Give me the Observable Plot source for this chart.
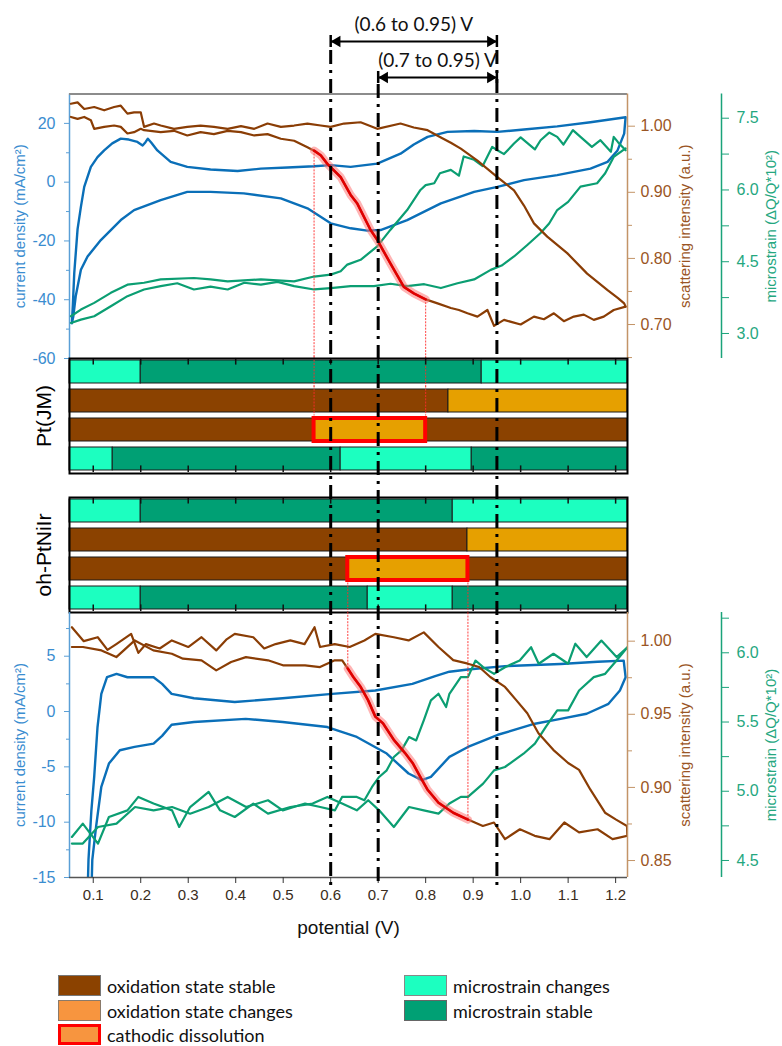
<!DOCTYPE html>
<html><head><meta charset="utf-8">
<script src="https://cdn.jsdelivr.net/npm/d3@7"></script>
<script src="https://cdn.jsdelivr.net/npm/@observablehq/plot@0.6"></script>
<style>
html,body{margin:0;padding:0;background:#fff;}
#chart{position:relative;width:782px;height:1046px;overflow:hidden;background:#fff;}
#chart svg{position:absolute;left:0;top:0;overflow:visible;}
.lg{position:absolute;display:flex;align-items:center;height:21px;font-family:Lato,'Open Sans',sans-serif;font-size:18px;line-height:20px;color:#111;white-space:nowrap;}
.sw{display:inline-block;box-sizing:border-box;width:43px;height:21px;margin-right:6px;flex:none;}
</style></head><body><div id="chart"></div>
<script>
// ---------- data ----------
const xTicks = [0.1,0.2,0.3,0.4,0.5,0.6,0.7,0.8,0.9,1.0,1.1,1.2];
const markers = [0.6, 0.7, 0.95];
const spans = [{from:0.6, to:0.95, label:"(0.6 to 0.95) V"}, {from:0.7, to:0.95, label:"(0.7 to 0.95) V"}];

// top panel: Pt(JM)
const iTopTicks = [-60,-40,-20,0,20], iTopMinor = [-50,-30,-10,10];
const sTopTicks = [0.70,0.80,0.90,1.00], sTopMinor = [0.65,0.75,0.85,0.95];
const mTopTicks = [3.0,4.5,6.0,7.5], mTopMinor = [3.75,5.25,6.75];
const topCV = [[0.055,-48],[0.057,-42],[0.060,-31],[0.067,-16],[0.074,-8.4],[0.081,-1.6],[0.095,5.2],[0.109,8.5],[0.123,10.8],[0.14,13.2],[0.158,14.8],[0.175,14.5],[0.193,13.7],[0.204,12.5],[0.210,13.6],[0.215,14.8],[0.222,13.5],[0.235,10.8],[0.263,6.9],[0.298,5.2],[0.347,4.3],[0.404,3.8],[0.453,4.6],[0.509,5.0],[0.565,5.4],[0.600,5.8],[0.642,5.2],[0.698,6.3],[0.747,9.7],[0.775,12.8],[0.804,15.4],[0.846,17.1],[0.902,17.4],[0.951,17.1],[1.007,17.9],[1.077,19.0],[1.147,20.4],[1.221,22.1],
 [1.218,16.5],[1.204,10.8],[1.183,6.9],[1.147,4.6],[1.077,2.4],[1.007,0.7],[0.951,-1.6],[0.902,-3.3],[0.832,-7.2],[0.761,-12.9],[0.705,-16.3],[0.677,-16.5],[0.642,-15.7],[0.600,-14.0],[0.551,-8.9],[0.495,-5.5],[0.417,-3.8],[0.347,-3.3],[0.298,-3.3],[0.242,-6.1],[0.186,-9.5],[0.158,-12.9],[0.116,-19.7],[0.088,-25.3],[0.074,-29.8],[0.063,-38.9],[0.058,-45.7],[0.055,-48]];
const topScatA = [[0.053,1.034],[0.067,1.036],[0.081,1.026],[0.102,1.029],[0.123,1.024],[0.144,1.029],[0.158,1.031],[0.172,1.019],[0.186,1.021],[0.200,1.021],[0.207,0.999],[0.228,1.004],[0.242,1.001],[0.270,0.996],[0.298,0.999],[0.326,1.001],[0.354,0.999],[0.383,0.996],[0.411,1.000],[0.439,0.996],[0.467,1.004],[0.495,0.999],[0.523,1.001],[0.551,1.004],[0.579,1.001],[0.600,0.999],[0.628,1.004],[0.663,1.006],[0.698,0.996],[0.747,1.004],[0.775,0.998],[0.804,0.994],[0.832,0.983],[0.853,0.975],[0.874,0.966],[0.909,0.948],[0.951,0.923],[0.986,0.903],[1.007,0.880],[1.028,0.853],[1.056,0.833],[1.098,0.808],[1.140,0.777],[1.183,0.752],[1.205,0.740],[1.218,0.732],[1.221,0.727]];
const topScatC = [[1.221,0.727],[1.196,0.722],[1.175,0.712],[1.154,0.707],[1.133,0.715],[1.112,0.712],[1.091,0.705],[1.070,0.717],[1.049,0.708],[1.028,0.712],[1.000,0.700],[0.965,0.707],[0.944,0.698],[0.930,0.722],[0.909,0.712],[0.888,0.717],[0.870,0.722],[0.853,0.725],[0.825,0.732],[0.800,0.738],[0.775,0.747],[0.754,0.757],[0.726,0.792],[0.698,0.828],[0.684,0.843],[0.656,0.883],[0.642,0.896],[0.621,0.923],[0.593,0.943],[0.579,0.956],[0.565,0.963],[0.551,0.968],[0.523,0.978],[0.495,0.981],[0.467,0.988],[0.439,0.986],[0.411,0.991],[0.383,0.993],[0.354,0.988],[0.326,0.991],[0.298,0.986],[0.270,0.993],[0.242,0.991],[0.207,0.994],[0.200,0.996],[0.186,0.991],[0.172,0.989],[0.158,0.999],[0.144,1.001],[0.123,0.999],[0.102,0.996],[0.095,1.009],[0.081,1.014],[0.067,1.011],[0.053,1.014]];
const topStrainA = [[0.053,3.22],[0.074,3.29],[0.102,3.36],[0.137,3.57],[0.172,3.78],[0.207,3.92],[0.242,3.99],[0.277,4.05],[0.312,3.92],[0.347,3.98],[0.383,3.92],[0.418,4.06],[0.453,4.02],[0.488,4.08],[0.523,3.99],[0.565,3.92],[0.600,3.95],[0.642,3.99],[0.691,3.99],[0.726,4.04],[0.761,3.99],[0.797,4.03],[0.832,3.95],[0.867,4.05],[0.902,4.13],[0.937,4.33],[0.960,4.42],[0.986,4.61],[1.014,4.85],[1.042,5.10],[1.060,5.30],[1.077,5.58],[1.100,5.75],[1.126,6.07],[1.161,6.14],[1.178,6.35],[1.196,6.69],[1.221,6.87]];
const topStrainC = [[1.221,6.83],[1.205,7.0],[1.196,7.11],[1.19,6.8],[1.168,7.04],[1.15,6.9],[1.126,7.11],[1.11,7.25],[1.09,6.95],[1.077,7.11],[1.06,7.2],[1.042,7.04],[1.03,6.85],[1.0,7.1],[0.986,6.97],[0.965,6.75],[0.951,6.83],[0.94,6.9],[0.92,6.5],[0.902,6.63],[0.88,6.7],[0.87,6.3],[0.853,6.42],[0.83,6.35],[0.818,6.14],[0.80,6.1],[0.789,6.0],[0.761,5.58],[0.726,5.17],[0.698,4.82],[0.663,4.54],[0.635,4.44],[0.621,4.30],[0.600,4.23],[0.565,4.19],[0.523,4.09],[0.453,4.13],[0.383,4.09],[0.347,4.13],[0.312,4.16],[0.242,4.13],[0.207,4.06],[0.172,4.02],[0.137,3.85],[0.102,3.64],[0.074,3.50],[0.053,3.36]];
const ptDiss = [0.565, 0.8];
const ptSegments = [
 ["r1",0.05,0.2,"ms-change"],["r1",0.2,0.918,"ms-stable"],["r1",0.918,1.225,"ms-change"],
 ["r2",0.05,0.848,"ox-stable"],["r2",0.848,1.225,"ox-change"],
 ["r3",0.05,0.565,"ox-stable"],["r3",0.565,0.8,"ox-change"],["r3",0.8,1.225,"ox-stable"],
 ["r4",0.05,0.141,"ms-change"],["r4",0.141,0.621,"ms-stable"],["r4",0.621,0.897,"ms-change"],["r4",0.897,1.225,"ms-stable"]];

// bottom panel: oh-PtNiIr
const iBotTicks = [-15,-10,-5,0,5], iBotMinor = [-12.5,-7.5,-2.5,2.5,7.5];
const sBotTicks = [0.85,0.90,0.95,1.00], sBotMinor = [0.875,0.925,0.975];
const mBotTicks = [4.5,5.0,5.5,6.0], mBotMinor = [4.75,5.25,5.75,6.25];
const botCV = [[0.086,-20],[0.090,-13.4],[0.096,-9],[0.102,-5.9],[0.109,-1.4],[0.117,1.6],[0.129,3.1],[0.149,3.4],[0.172,3.1],[0.227,3.1],[0.245,2.5],[0.265,1.6],[0.312,1.2],[0.398,0.86],[0.499,1.2],[0.603,1.6],[0.694,1.9],[0.772,2.5],[0.820,3.2],[0.850,3.6],[0.889,3.8],[0.967,4.1],[1.084,4.3],[1.162,4.5],[1.217,4.6],
 [1.221,3.1],[1.209,1.9],[1.185,0.7],[1.139,-0.2],[1.084,-0.66],[1.030,-1.1],[0.952,-2.1],[0.889,-3.2],[0.850,-4.1],[0.811,-5.9],[0.792,-6.2],[0.764,-5.6],[0.718,-3.8],[0.655,-2.3],[0.593,-1.4],[0.499,-0.95],[0.421,-0.66],[0.312,-0.95],[0.265,-1.2],[0.245,-2.2],[0.227,-2.9],[0.187,-3.2],[0.156,-3.5],[0.133,-4.7],[0.117,-6.8],[0.106,-10.4],[0.098,-13.4],[0.094,-20]];
const botScatA = [[0.055,1.0095],[0.080,1.000],[0.1095,1.0027],[0.130,0.994],[0.1486,0.998],[0.1798,1.005],[0.195,0.992],[0.211,0.998],[0.240,0.995],[0.2655,1.0005],[0.300,0.996],[0.328,1.0027],[0.359,0.9937],[0.380,1.001],[0.398,1.005],[0.437,1.0027],[0.460,0.995],[0.484,0.998],[0.515,1.0005],[0.545,0.998],[0.566,1.0095],[0.5775,0.996],[0.6086,0.998],[0.640,0.996],[0.671,1.0005],[0.694,1.005],[0.733,1.0027],[0.764,1.0005],[0.796,1.006],[0.827,0.996],[0.858,0.987],[0.889,0.9846],[0.9126,0.9823],[0.936,0.9755],[0.967,0.9687],[0.9907,0.9597],[1.014,0.9507],[1.0375,0.937],[1.0687,0.9257],[1.100,0.9167],[1.123,0.912],[1.1466,0.8986],[1.1777,0.8827],[1.201,0.878],[1.224,0.8736]];
const botScatC = [[1.224,0.8736],[1.2246,0.8669],[1.1935,0.8646],[1.162,0.8714],[1.123,0.8692],[1.092,0.876],[1.0608,0.8646],[1.0295,0.8669],[0.9985,0.8714],[0.967,0.8646],[0.9438,0.876],[0.9204,0.8736],[0.889,0.878],[0.858,0.8827],[0.827,0.8895],[0.8036,0.8986],[0.788,0.9076],[0.7725,0.9167],[0.7566,0.9235],[0.733,0.9325],[0.710,0.9439],[0.694,0.9484],[0.6787,0.9597],[0.663,0.9688],[0.6476,0.9755],[0.636,0.9813],[0.6242,0.9869],[0.6086,0.9869],[0.5775,0.9823],[0.546,0.9835],[0.4994,0.9835],[0.468,0.9869],[0.4215,0.9891],[0.3903,0.9857],[0.359,0.980],[0.328,0.9869],[0.289,0.988],[0.2655,0.9914],[0.2265,0.9937],[0.1874,1.0005],[0.1486,0.9891],[0.1173,0.9937],[0.0783,0.996],[0.055,0.996]];
const botStrainA = [[0.055,4.670],[0.078,4.766],[0.110,4.622],[0.133,4.814],[0.172,4.862],[0.195,4.959],[0.227,4.911],[0.266,4.862],[0.281,4.742],[0.304,4.886],[0.343,4.995],[0.367,4.862],[0.398,4.814],[0.437,4.911],[0.468,4.838],[0.515,4.886],[0.562,4.911],[0.593,4.959],[0.624,4.911],[0.655,4.862],[0.679,4.935],[0.702,4.862],[0.733,4.742],[0.765,4.886],[0.796,4.862],[0.827,4.838],[0.850,4.911],[0.874,4.959],[0.889,4.959],[0.921,5.055],[0.944,5.151],[0.967,5.175],[1.006,5.271],[1.030,5.344],[1.053,5.465],[1.077,5.584],[1.100,5.584],[1.123,5.728],[1.154,5.824],[1.178,5.848],[1.202,5.944],[1.225,6.040]];
const botStrainC = [[1.225,6.040],[1.202,5.969],[1.170,6.088],[1.139,5.969],[1.115,6.065],[1.100,5.921],[1.069,5.993],[1.038,5.921],[1.022,6.040],[0.998,5.944],[0.967,5.896],[0.944,5.848],[0.921,5.896],[0.905,5.944],[0.889,5.824],[0.874,5.824],[0.850,5.704],[0.843,5.608],[0.827,5.704],[0.811,5.656],[0.796,5.512],[0.780,5.367],[0.765,5.391],[0.749,5.295],[0.733,5.247],[0.718,5.151],[0.702,5.103],[0.687,5.031],[0.671,4.935],[0.655,4.959],[0.640,4.959],[0.624,4.959],[0.609,4.862],[0.578,4.886],[0.546,4.911],[0.499,4.862],[0.468,4.935],[0.422,4.886],[0.383,4.959],[0.343,4.886],[0.304,4.838],[0.266,4.886],[0.227,4.862],[0.188,4.886],[0.149,4.766],[0.110,4.742],[0.078,4.622],[0.055,4.622]];
const ohDiss = [0.636, 0.889];
const ohSegments = [
 ["r1",0.05,0.2,"ms-change"],["r1",0.2,0.857,"ms-stable"],["r1",0.857,1.225,"ms-change"],
 ["r2",0.05,0.888,"ox-stable"],["r2",0.888,1.225,"ox-change"],
 ["r3",0.05,0.636,"ox-stable"],["r3",0.636,0.889,"ox-change"],["r3",0.889,1.225,"ox-stable"],
 ["r4",0.05,0.2,"ms-change"],["r4",0.2,0.678,"ms-stable"],["r4",0.678,0.857,"ms-change"],["r4",0.857,1.225,"ms-stable"]];

const legendItems = [
 {label:"oxidation state stable", fill:"#8b4200", border:"1.5px solid #777", left:58, top:975},
 {label:"oxidation state changes", fill:"#f7953f", border:"1.5px solid #8a7a6a", left:58, top:1000},
 {label:"cathodic dissolution", fill:"#f7953f", border:"3px solid #ff0000", left:58, top:1024},
 {label:"microstrain changes", fill:"#1cffc0", border:"1.5px solid #888", left:404, top:975},
 {label:"microstrain stable", fill:"#00a074", border:"1.5px solid #666", left:404, top:1000}];

// ---------- styles & layout ----------
const C = {blue:"#0a6fb8", brown:"#8a3d05", green:"#0b9e72", red:"#e00000", halo:"#ff6a6a",
  barBrown:"#8b4200", barOrange:"#e6a000", light:"#1cffc0", dark:"#00a074",
  axisBlue:"#5a9fd6", textBlue:"#3a8dd0", axisBrown:"#c39467", textBrown:"#9a5524",
  axisGreen:"#1aa37a", textGreen:"#25a77f", xText:"#3a2c20"};
const FONT = "'Liberation Sans', Arial, sans-serif";
const W = 782, H = 1046, X0 = 69, X1 = 627, XM = 721;
const xDomain = [0.05, 1.225];
const iTopDomain = [-60, 30], sTopDomain = [0.6486, 1.0487], mTopDomain = [2.477, 8.006];
const iBotDomain = [-15, 8.95], sBotDomain = [0.8384, 1.0196], mBotDomain = [4.377, 6.291];
const TOP = [93.5, 358], PTB = [358, 473], OHB = [497, 612], BOT = [612, 877];
const rows = ["r1","r2","r3","r4"];
const stateColor = {domain:["ox-stable","ox-change","ms-change","ms-stable"], range:[C.barBrown, C.barOrange, C.light, C.dark]};
const chart = document.getElementById("chart");

function layer({top, bottom, right = X1, xdom = xDomain, y, color, marks}) {
  const opts = {
    width: W, height: H, marginTop: top, marginBottom: H - bottom, marginLeft: X0, marginRight: W - right,
    x: {domain: xdom, axis: null, label: null},
    y: Object.assign({axis: null, label: null}, y),
    style: {background: "transparent", overflow: "visible", fontFamily: FONT, fontSize: "15px"},
    marks
  };
  if (color) opts.color = color;
  chart.appendChild(Plot.plot(opts));
}
const P = d => d[0], V = d => d[1];
const title = (t, anchor, dx, fill) => Plot.text([t], {text: d => d, frameAnchor: anchor, dx, rotate: -90, textAnchor: "middle", lineAnchor: "middle", fill, fontSize: 15});

function currentLayer(frame, dom, data, ticks, minor, extra) {
  layer({top: frame[0], bottom: frame[1], y: {domain: dom}, marks: [
    Plot.line(data, {x: P, y: V, stroke: C.blue, strokeWidth: 2.4, clip: true}),
    Plot.ruleX([xDomain[0]], {stroke: C.axisBlue, strokeWidth: 1.5}),
    Plot.axisY(ticks, {anchor: "left", tickSize: 5, tickPadding: 9, stroke: C.axisBlue, fill: C.textBlue, fontSize: 16, tickFormat: d => String(d), label: null}),
    Plot.axisY(minor, {anchor: "left", tickSize: 3, stroke: C.axisBlue, fill: "none", label: null}),
    title("current density (mA/cm²)", "left", -49, C.textBlue),
    ...extra
  ]});
}
function strainLayer(frame, dom, a, c) {
  layer({top: frame[0], bottom: frame[1], y: {domain: dom}, marks: [
    Plot.line(a, {x: P, y: V, stroke: C.green, strokeWidth: 2.2, clip: true}),
    Plot.line(c, {x: P, y: V, stroke: C.green, strokeWidth: 2.2, clip: true})
  ]});
}
function scatLayer(frame, dom, a, c, diss, guideEnd, ticks, minor) {
  const red = c.filter(d => d[0] >= diss[0] && d[0] <= diss[1]);
  const guides = diss.map(x => c.find(d => d[0] === x));
  layer({top: frame[0], bottom: frame[1], y: {domain: dom}, marks: [
    Plot.ruleX(guides, {x: P, y1: V, y2: () => guideEnd, stroke: "#ff2a2a", strokeWidth: 0.9, strokeDasharray: "2,1.2"}),
    Plot.line(a, {x: P, y: V, stroke: C.brown, strokeWidth: 2.2, clip: true}),
    Plot.line(c, {x: P, y: V, stroke: C.brown, strokeWidth: 2.2, clip: true}),
    Plot.line(red, {x: P, y: V, stroke: C.halo, strokeWidth: 8, strokeOpacity: 0.5, strokeLinecap: "round"}),
    Plot.line(red, {x: P, y: V, stroke: C.red, strokeWidth: 2.6}),
    Plot.ruleX([xDomain[1]], {stroke: C.axisBrown, strokeWidth: 1.5}),
    Plot.axisY(ticks, {anchor: "right", tickSize: 7, tickPadding: 6, stroke: C.axisBrown, fill: C.textBrown, fontSize: 16, tickFormat: d3.format(".2f"), label: null}),
    Plot.axisY(minor, {anchor: "right", tickSize: 4, stroke: C.axisBrown, fill: "none", label: null}),
    title("scattering intensity (a.u.)", "right", 58, C.textBrown)
  ]});
}
function strainAxisLayer(frame, dom, ticks, minor) {
  layer({top: frame[0], bottom: frame[1], right: XM, xdom: [0, 1], y: {domain: dom}, marks: [
    Plot.ruleX([1], {stroke: C.axisGreen, strokeWidth: 1.5}),
    Plot.axisY(ticks, {anchor: "right", tickSize: 7, tickPadding: 8, stroke: C.axisGreen, fill: C.textGreen, fontSize: 16, tickFormat: d3.format(".1f"), label: null}),
    Plot.axisY(minor, {anchor: "right", tickSize: 7, stroke: C.axisGreen, fill: "none", label: null}),
    title("microstrain (ΔQ/Q*10²)", "right", 50, C.textGreen)
  ]});
}
function barLayer(frame, segs, diss, name, guideRows) {
  const band = d3.scaleBand().domain(rows).range(frame).paddingInner(0.2).paddingOuter(0.07);
  const bw = band.bandwidth();
  const r1 = band("r1"), r4 = band("r4");
  const guides = diss.flatMap(x => guideRows.map(r => [x, r]));
  layer({top: frame[0], bottom: frame[1], y: {type: "band", domain: rows, paddingInner: 0.2, paddingOuter: 0.07}, color: stateColor, marks: [
    Plot.barX(segs, {x1: d => d[1], x2: d => d[2], y: d => d[0], fill: d => d[3], stroke: "#1a1a1a", strokeWidth: 1}),
    Plot.tickX(guides, {x: P, y: V, stroke: "#ff2a2a", strokeWidth: 0.9, strokeDasharray: "2,1.2", insetTop: -3.5, insetBottom: -3.5}),
    Plot.barX([diss], {x1: d => d[0], x2: d => d[1], y: () => "r3", fill: C.barOrange, stroke: "#ff0000", strokeWidth: 4}),
    Plot.tickX(xTicks, {x: d => d, y: () => "r1", stroke: "#111", strokeWidth: 1.5, insetTop: frame[0] - r1, insetBottom: bw - (frame[0] + 7 - r1)}),
    Plot.tickX(xTicks, {x: d => d, y: () => "r4", stroke: "#111", strokeWidth: 1.5, insetTop: (frame[1] - 7) - r4, insetBottom: r4 + bw - frame[1]}),
    Plot.frame({stroke: "#000", strokeWidth: 2}),
    Plot.text([name], {text: d => d, frameAnchor: "left", dx: -25, rotate: -90, textAnchor: "middle", lineAnchor: "middle", fontSize: 21, fill: "#000"})
  ]});
}

// ---------- top panel ----------
currentLayer(TOP, iTopDomain, topCV, iTopTicks, iTopMinor, [Plot.ruleY([iTopDomain[1]], {stroke: "#8c8c8c", strokeWidth: 2})]);
strainLayer(TOP, mTopDomain, topStrainA, topStrainC);
scatLayer(TOP, sTopDomain, topScatA, topScatC, ptDiss, sTopDomain[0], sTopTicks, sTopMinor);
strainAxisLayer(TOP, mTopDomain, mTopTicks, mTopMinor);

// ---------- state bars ----------
barLayer(PTB, ptSegments, ptDiss, "Pt(JM)", ["r1","r2"]);
barLayer(OHB, ohSegments, ohDiss, "oh-PtNiIr", ["r4"]);

// ---------- bottom panel ----------
currentLayer(BOT, iBotDomain, botCV, iBotTicks, iBotMinor, [
  Plot.ruleY([iBotDomain[0]], {stroke: "#555", strokeWidth: 1.5}),
  Plot.axisX(xTicks, {anchor: "bottom", tickSize: 6, tickPadding: 6, stroke: "#333", fill: C.xText, fontSize: 15, tickFormat: d3.format(".1f"), label: null}),
  Plot.text(["potential (V)"], {text: d => d, frameAnchor: "bottom", dy: 50, lineAnchor: "middle", fontSize: 19, fill: "#111"})
]);
strainLayer(BOT, mBotDomain, botStrainA, botStrainC);
scatLayer(BOT, sBotDomain, botScatA, botScatC, ohDiss, sBotDomain[1], sBotTicks, sBotMinor);
strainAxisLayer(BOT, mBotDomain, mBotTicks, mBotMinor);

// ---------- dash-dot markers ----------
const dash = {stroke: "#000", strokeWidth: 3, strokeDasharray: "14,6,3,6"};
layer({top: 50, bottom: 886, y: {domain: [0, 1]}, marks: [Plot.ruleX(markers.filter(m => m !== 0.7), dash)]});
layer({top: 84, bottom: 886, y: {domain: [0, 1]}, marks: [Plot.ruleX(markers.filter(m => m === 0.7), dash)]});

// ---------- range arrows ----------
[[35, 47], [71, 83]].forEach((f, k) => {
  const s = spans[k];
  layer({top: f[0], bottom: f[1], y: {domain: [0, 1]}, marks: [
    Plot.ruleX([s.from, s.to], {stroke: "#000", strokeWidth: 2.5}),
    Plot.ruleY([0.5], {x1: s.from, x2: s.to, stroke: "#000", strokeWidth: 2.2}),
    Plot.dot([s.from], {x: d => d, y: () => 0.5, symbol: "triangle", r: 4.2, rotate: -90, fill: "#000", dx: 6.5}),
    Plot.dot([s.to], {x: d => d, y: () => 0.5, symbol: "triangle", r: 4.2, rotate: 90, fill: "#000", dx: -6.5}),
    Plot.text([s.label], {text: d => d, x: () => (s.from + s.to) / 2, y: () => 0.5, dy: -17, fontSize: 19, fontFamily: "Lato, 'Open Sans', sans-serif", fill: "#111"})
  ]});
});

// ---------- legend ----------
legendItems.forEach(it => {
  const d = document.createElement("div");
  d.className = "lg";
  d.style.left = it.left + "px"; d.style.top = it.top + "px";
  const sw = document.createElement("span");
  sw.className = "sw"; sw.style.background = it.fill; sw.style.border = it.border;
  d.appendChild(sw);
  d.appendChild(document.createTextNode(it.label));
  chart.appendChild(d);
});
</script></body></html>
